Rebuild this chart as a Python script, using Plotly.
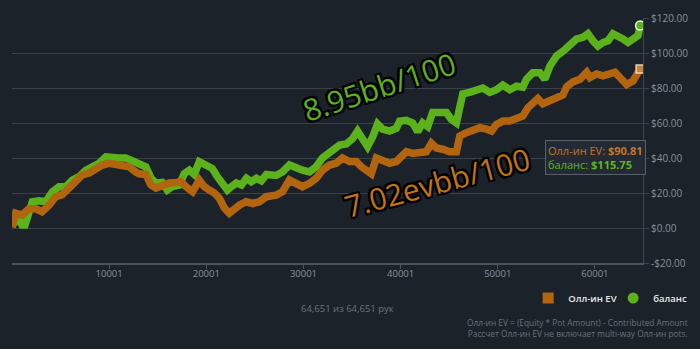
import plotly.graph_objects as go

# Hand numbers and cumulative winnings ($) for the all-in EV line
ev_hands = [1, 380, 1030, 1750, 2440, 3090, 3810, 4500, 5150, 5880, 6570, 7220, 7940, 8630,
            9280, 10000, 10690, 11340, 12060, 12750, 13090, 13780, 14300, 14820, 15460, 16190,
            16880, 17390, 17910, 18590, 19280, 19800, 20310, 20830, 21340, 21860, 22370, 22890,
            23400, 24090, 24780, 25470, 26160, 27190, 27840, 28560, 29250, 29900, 30620, 31310,
            31960, 32680, 33370, 34020, 34740, 35430, 35950, 36470, 36980, 37500, 38150, 38870,
            39560, 40590, 41240, 41960, 42650, 43170, 43680, 44330, 45050, 45740, 46090, 46780,
            47430, 48150, 48840, 49350, 49870, 50520, 51240, 51930, 52580, 53100, 53610, 54130,
            54640, 55370, 56060, 56710, 57090, 57740, 58460, 59150, 59490, 60180, 60830, 61550,
            62070, 62580, 63270, 63920, 64400, 64651]
ev_values = [0.5, 8.5, 7.4, 11, 11, 9.3, 13, 17.9, 18.9, 22.8, 25.7, 30.3, 31.4, 34.3,
             36, 37, 36, 35, 35, 32, 31, 30.6, 24.6, 22.8, 24.6, 25.7,
             26, 26.5, 23.6, 20.7, 27.4, 23.6, 21.7, 20, 17, 11.4, 8.5, 11.4,
             13, 15, 14, 15, 17.9, 18.8, 20.7, 27.4, 25, 23.6, 25.5, 28.4,
             33, 36, 37, 40, 38, 38, 35, 33, 31, 40, 38, 37,
             38, 43.6, 42.6, 42.6, 43.6, 48.4, 45.7, 45, 43.6, 43.6, 52.6, 54.5,
             55.4, 57.3, 56.5, 55.4, 59.2, 61.1, 61.1, 63, 64, 68.7, 71.6, 74,
             71, 73, 74, 76, 80.7, 83.5, 85, 89, 86, 88, 87, 88,
             89, 86, 82, 84, 88, 90.81]

# Hand numbers and cumulative winnings ($) for the balance line
bal_hands = [1, 300, 720, 1030, 1340, 1750, 2090, 2780, 3470, 4160, 4850, 5540, 6220, 6910,
             7600, 8280, 8970, 9660, 10340, 11030, 11720, 12400, 12920, 13780, 14300, 14820,
             15460, 15980, 16500, 17220, 17730, 18250, 18760, 19280, 19590, 20100, 20620, 21140,
             21650, 22170, 22580, 23090, 23610, 24130, 24640, 25160, 25670, 26190, 27190, 27840,
             28560, 29250, 29900, 30620, 31310, 31960, 32480, 32990, 33720, 34410, 35050, 35570,
             36090, 36600, 37120, 37630, 38150, 38870, 39560, 39900, 40590, 41240, 41760, 42270,
             42790, 43300, 44020, 44710, 45230, 45740, 46090, 46400, 47120, 47810, 48460, 49180,
             49870, 50520, 51240, 51930, 52580, 52960, 53610, 54330, 54850, 55370, 56060, 56710,
             57430, 58120, 58770, 59280, 59800, 60310, 60830, 61350, 61860, 62380, 62890, 63410,
             63920, 64440, 64651]
bal_values = [1, 3.6, 5, 1.7, 1.7, 10, 15, 15.6, 15, 20.7, 23.6, 23.6, 27.4, 29.3,
              33, 35, 37, 40.7, 40, 40, 40, 38, 37, 35, 28.5, 25.7,
              26, 21.7, 23.6, 24.6, 31, 33, 30.6, 37.9, 37, 35, 34, 29.3,
              25.7, 21.7, 23.6, 25.7, 24.6, 28.4, 26.5, 28.4, 27, 30.6, 30, 32,
              36, 34, 33, 32, 35, 40, 42, 44.6, 47.4, 48, 51, 55.4,
              51, 46.5, 52, 59.4, 56.5, 55.4, 57, 61, 61.5, 60, 55, 60,
              58, 66, 66, 66, 62, 60, 69, 76.6, 77.5, 78.9, 80, 77.5,
              79, 81.7, 79, 81, 80.5, 85, 88.7, 88.7, 85, 92.6, 98.3, 101,
              105, 108, 109, 111, 107, 104, 106, 107, 111, 110, 108, 106,
              108, 110, 115.75]

x_tick_vals = [10001, 20001, 30001, 40001, 50001, 60001]
x_tick_text = ["10001", "20001", "30001", "40001", "50001", "60001"]
y_tick_vals = [-20, 0, 20, 40, 60, 80, 100, 120]
y_tick_text = ["-$20.00", "$0.00", "$20.00", "$40.00", "$60.00", "$80.00", "$100.00", "$120.00"]

ORANGE = "#b3640f"
GREEN = "#5cb21b"
BG = "#1b222a"
FONT = "Open Sans"

fig = go.Figure()

fig.add_trace(go.Scatter(x=bal_hands, y=bal_values, mode="lines", name="баланс",
                         line=dict(color=GREEN, width=7.5), showlegend=False, hoverinfo="skip"))
fig.add_trace(go.Scatter(x=ev_hands, y=ev_values, mode="lines", name="Олл-ин EV",
                         line=dict(color=ORANGE, width=7.5), showlegend=False, hoverinfo="skip"))

# highlighted end points
fig.add_trace(go.Scatter(x=[ev_hands[-1]], y=[ev_values[-1]], mode="markers", showlegend=False,
                         marker=dict(symbol="square", size=8, color="#c9843a",
                                     line=dict(color="#e8d2b8", width=1.5)), hoverinfo="skip"))
fig.add_trace(go.Scatter(x=[bal_hands[-1]], y=[bal_values[-1]], mode="markers", showlegend=False,
                         marker=dict(symbol="circle", size=9, color=GREEN,
                                     line=dict(color="#e8f0e0", width=1.5)), hoverinfo="skip"))

# legend entries
fig.add_trace(go.Scatter(x=[None], y=[None], mode="markers", name="Олл-ин EV", legendrank=1,
                         marker=dict(symbol="square", size=11, color=ORANGE)))
fig.add_trace(go.Scatter(x=[None], y=[None], mode="markers", name="баланс", legendrank=2,
                         marker=dict(symbol="circle", size=11, color=GREEN)))

outline = ("2px 0 0 #000, -2px 0 0 #000, 0 2px 0 #000, 0 -2px 0 #000, "
           "2px 2px 0 #000, -2px -2px 0 #000, 2px -2px 0 #000, -2px 2px 0 #000")


def note(**kw):
    base = dict(xref="paper", yref="paper", showarrow=False, xanchor="center", yanchor="middle")
    base.update(kw)
    return base


annotations = [
    note(text="8.95bb/100", x=0.582, y=0.72, textangle=-18,
         font=dict(family=FONT, size=30, color=GREEN, shadow=outline)),
    note(text="7.02evbb/100", x=0.673, y=0.33, textangle=-15,
         font=dict(family=FONT, size=30, color="#c27414", shadow=outline)),
    note(text="<span style='color:#c2772a'>Олл-ин EV: <b>$90.81</b></span><br>"
              "<span style='color:#5db81f'>баланс: <b>$115.75</b></span>",
         x=0.925, y=0.43, align="left",
         bgcolor="#232a33", bordercolor="#59616b", borderwidth=1, borderpad=2,
         font=dict(family=FONT, size=11)),
    note(text="64,651 из 64,651 рук", x=0.532, y=-0.185,
         font=dict(family=FONT, size=9.5, color="#6d757f")),
    note(text="Олл-ин EV = (Equity * Pot Amount) - Contributed Amount<br>"
              "Рассчет Олл-ин EV не включает multi-way Олл-ин pots.",
         x=1.075, y=-0.267, xanchor="right", align="right",
         font=dict(family=FONT, size=8.3, color="#6a727c")),
]

fig.update_layout(
    width=700, height=349,
    margin=dict(l=12, r=57, t=18, b=86, autoexpand=False),
    paper_bgcolor=BG, plot_bgcolor=BG,
    font=dict(family=FONT, color="#8f969e"),
    showlegend=True,
    legend=dict(orientation="h", x=0.818, xanchor="left", y=-0.143, yanchor="middle",
                bgcolor="rgba(0,0,0,0)", font=dict(family=FONT, size=9.5, color="#e8e8e8", weight=600),
                itemwidth=30, entrywidth=40, traceorder="normal", tracegroupgap=0),
    annotations=annotations,
    hovermode=False,
)

fig.update_xaxes(range=[1, 64950], tickvals=x_tick_vals, ticktext=x_tick_text, ticks="outside",
                 ticklen=4, tickcolor="#4b535d", showgrid=False, zeroline=False, showline=True,
                 linecolor="#4b535d", linewidth=1.5, ticklabelstandoff=-3,
                 tickfont=dict(size=9.5, color="#8a919a"))
fig.update_yaxes(range=[-20, 120], side="right", tickvals=y_tick_vals, ticktext=y_tick_text,
                 ticks="outside", ticklen=5, tickcolor="#3d454f", showgrid=True,
                 gridcolor="#39414b", gridwidth=1, zeroline=False, showline=True,
                 linecolor="#3d454f", tickfont=dict(size=10, color="#8a919a"))

fig.write_html("out.html")
